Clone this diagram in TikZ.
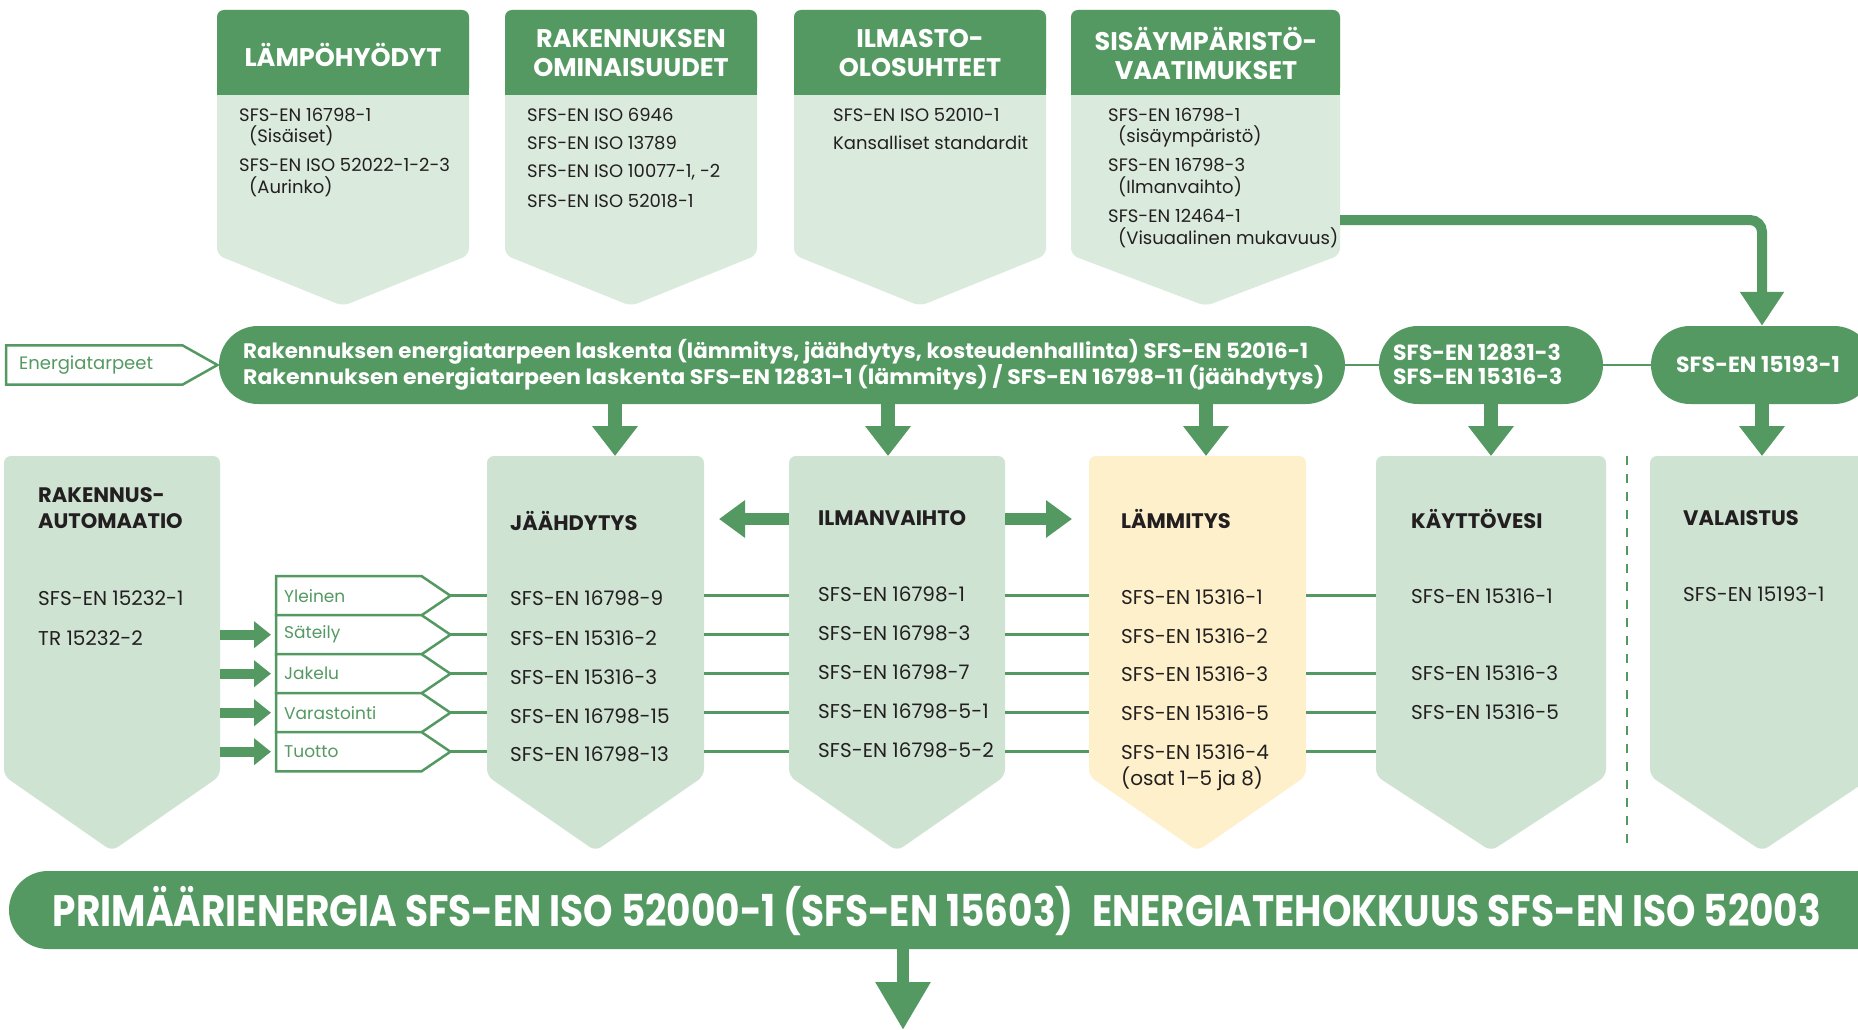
\documentclass[tikz,border=0pt]{standalone}
\usepackage{fontspec}
\usepackage{graphicx}
\setmainfont{Poppins}
\usetikzlibrary{calc,arrows.meta}
\definecolor{dkgreen}{RGB}{84,153,98}
\definecolor{ltgreen}{RGB}{206,227,210}
\definecolor{topgreen}{RGB}{218,234,220}
\definecolor{ltyellow}{RGB}{253,240,202}
\definecolor{ink}{RGB}{35,31,32}
\newcommand\shieldbox[7]{%
  \node[inner sep=0pt,outer sep=0pt,minimum width=#4pt,minimum height=#5pt,anchor=north west] (#1) at (#2,#3) {};
  \fill[#7,rounded corners=7pt] (#1.south west) -- (#1.north west) -- (#1.north east) -- (#1.south east) -- ($(#1.south)+(0,#6)$) -- cycle;}
\newcommand\hdrband[1]{%
  \fill[dkgreen,rounded corners=7pt] (#1.north west |- hb) -- (#1.north west) -- (#1.north east) -- (#1.north east |- hb) -- cycle;
  \fill[dkgreen] ($(#1.north west |- hb)+(0,-10)$) rectangle (#1.north east |- hb);}
\begin{document}
\begin{tikzpicture}[x=1pt,y=-1pt,
  body/.style={anchor=west,inner sep=0pt,text=ink,font=\fontsize{20}{24}\selectfont},
  topt/.style={anchor=west,inner sep=0pt,text=ink,font=\fontsize{18}{22}\selectfont},
  ttl/.style={anchor=west,inner sep=0pt,text=ink,align=left,font=\bfseries\fontsize{21}{26}\selectfont},
  hdr/.style={inner sep=0pt,text=white,align=center,font=\bfseries\fontsize{25.5}{29}\selectfont},
  pillt/.style={anchor=west,inner sep=0pt,text=white,font=\bfseries\fontsize{21}{25}\selectfont},
  labt/.style={anchor=west,inner sep=0pt,text=dkgreen,font=\fontsize{17}{20}\selectfont},
  conn/.style={draw=dkgreen,line width=2.5pt},
  pillbox/.style={fill=dkgreen,rounded corners=39pt,inner sep=0pt,minimum height=78pt},
  fat/.style={draw=dkgreen,line width=14pt,-{Triangle[width=44pt,length=30pt]}},
  sidearr/.style={draw=dkgreen,line width=12pt,-{Triangle[width=36pt,length=26pt]}},
  smallarr/.style={draw=dkgreen,line width=10pt,-{Triangle[width=26pt,length=17pt]}},
  labshape/.style={draw=dkgreen,line width=2.5pt,fill=white}]
\fill[white] (0,0) rectangle (1858,1030);
\useasboundingbox (0,0) rectangle (1858,1030);
\coordinate (hb) at (0,95);
% ---------- top boxes ----------
\shieldbox{hyo}{217}{10}{252}{245}{51}{topgreen}
\shieldbox{omi}{505}{10}{252}{245}{51}{topgreen}
\shieldbox{ilmo}{794}{10}{252}{245}{51}{topgreen}
\shieldbox{sis}{1071}{10}{269}{245}{51}{topgreen}
\hdrband{hyo}\hdrband{omi}\hdrband{ilmo}\hdrband{sis}
\node[hdr] (hyoh) at (343,55) {LÄMPÖHYÖDYT};
\node[hdr] (omih) at (631,53) {RAKENNUKSEN\\OMINAISUUDET};
\node[hdr] (ilmoh) at (920,53) {ILMASTO-\\OLOSUHTEET};
\node[hdr] (sish) at (1206,53) {SISÄYMPÄRISTÖ-\\VAATIMUKSET};
\node[topt] (hyo1) at (239,115) {SFS-EN 16798-1};
\node[topt] (hyo2) at (249,136) {(Sisäiset)};
\node[topt] (hyo3) at (239,165) {SFS-EN ISO 52022-1-2-3};
\node[topt] (hyo4) at (249,187) {(Aurinko)};
\node[topt] (omi1) at (527,115) {SFS-EN ISO 6946};
\node[topt] (omi2) at (527,143) {SFS-EN ISO 13789};
\node[topt] (omi3) at (527,172) {SFS-EN ISO 10077-1, -2};
\node[topt] (omi4) at (527,201) {SFS-EN ISO 52018-1};
\node[topt] (ilmo1) at (833,115) {SFS-EN ISO 52010-1};
\node[topt] (ilmo2) at (833,143) {Kansalliset standardit};
\node[topt] (sis1) at (1108,115) {SFS-EN 16798-1};
\node[topt] (sis2) at (1118,136) {(sisäympäristö)};
\node[topt] (sis3) at (1108,165) {SFS-EN 16798-3};
\node[topt] (sis4) at (1118,187) {(Ilmanvaihto)};
\node[topt] (sis5) at (1108,216) {SFS-EN 12464-1};
\node[topt] (sis6) at (1118,238) {(Visuaalinen mukavuus)};
% ---------- pills ----------
\node[pillbox,minimum width=1126pt] (p1) at (782,365) {};
\node[pillbox,minimum width=224pt] (p2) at (1491,365) {};
\node[pillbox,minimum width=222pt] (p3) at (1762,365) {};
\draw[conn] (p1.east) -- (p2.west);
\draw[conn] (p2.east) -- (p3.west);
\node[pillt] (p1a) at (243,352) {\resizebox{1065pt}{\height}{Rakennuksen energiatarpeen laskenta (lämmitys, jäähdytys, kosteudenhallinta) SFS-EN 52016-1}};
\node[pillt] (p1b) at (243,377) {\resizebox{1081pt}{\height}{Rakennuksen energiatarpeen laskenta SFS-EN 12831-1 (lämmitys) / SFS-EN 16798-11 (jäähdytys)}};
\node[pillt,align=left,font=\bfseries\fontsize{22}{24}\selectfont] (p2t) at (1393,364) {SFS-EN 12831-3\\SFS-EN 15316-3};
\node[pillt,anchor=center,font=\bfseries\fontsize{22}{24}\selectfont] (p3t) at (1758,364) {SFS-EN 15193-1};
% Energiatarpeet
\node[inner sep=0pt,minimum width=211pt,minimum height=39pt,anchor=west] (en) at (6,365) {};
\draw[labshape] (en.north west) -- ($(en.north east)+(-35,0)$) -- (en.east) -- ($(en.south east)+(-35,0)$) -- (en.south west) -- cycle;
\node[labt,font=\fontsize{18}{20}\selectfont] (ent) at (19,365) {Energiatarpeet};
% sisäympäristö arrow
\coordinate (sy) at (0,220);
\draw[draw=dkgreen,line width=10pt,rounded corners=12pt,-{Triangle[width=42pt,length=34pt]}] (sis.east |- sy) -| (p3.north);
% ---------- lower boxes ----------
\shieldbox{rak}{4}{456}{216}{320}{75}{ltgreen}
\shieldbox{jaa}{487}{456}{217}{320}{75}{ltgreen}
\shieldbox{ilm}{789}{456}{216}{320}{75}{ltgreen}
\shieldbox{lamm}{1089}{456}{217}{320}{75}{ltyellow}
\shieldbox{kay}{1376}{456}{230}{320}{75}{ltgreen}
\shieldbox{val}{1650}{456}{224}{320}{75}{ltgreen}
\coordinate (d1) at (1627,456);
\coordinate (d2) at (1627,851);
\draw[dkgreen,line width=1.5pt,dash pattern=on 9pt off 9pt] (d1) -- (d2);
% down arrows
\coordinate (a1) at (615,0);
\coordinate (a2) at (888,0);
\coordinate (a3) at (1206,0);
\draw[fat] (p1.south -| a1) -- (jaa.north -| a1);
\draw[fat] (p1.south -| a2) -- (ilm.north -| a2);
\draw[fat] (p1.south -| a3) -- (lamm.north -| a3);
\draw[fat] (p2.south) -- (kay.north -| p2.south);
\draw[fat] (p3.south) -- (val.north -| p3.south);
% titles
\node[ttl] (rakt) at (38,508) {RAKENNUS-\\AUTOMAATIO};
\node[ttl] (jaat) at (510,521) {JÄÄHDYTYS};
\node[ttl] (ilmt) at (818,518) {ILMANVAIHTO};
\node[ttl] (lammt) at (1121,519) {LÄMMITYS};
\node[ttl] (kayt) at (1411,519) {KÄYTTÖVESI};
\node[ttl] (valt) at (1683,518) {VALAISTUS};
% side arrows from ilmanvaihto
\coordinate (sa) at (0,519);
\draw[sidearr,shorten >=15pt] (ilm.west |- sa) -- (jaa.east |- sa);
\draw[sidearr,shorten >=17pt] (ilm.east |- sa) -- (lamm.west |- sa);
% labels
\foreach \tx [count=\k from 0] in {Yleinen,Säteily,Jakelu,Varastointi,Tuotto}{
  \pgfmathsetmacro\yt{576+39*\k}
  \node[inner sep=0pt,minimum width=174pt,minimum height=39pt,anchor=north west] (lab\k) at (276,\yt) {};
  \draw[labshape] (lab\k.north west) -- ($(lab\k.north east)+(-29,0)$) -- (lab\k.east) -- ($(lab\k.south east)+(-29,0)$) -- (lab\k.south west) -- cycle;
  \node[labt] (labt\k) at ($(lab\k.west)+(8,0)$) {\tx};
  \draw[conn] (lab\k.east) -- (jaa.west |- lab\k.east);
  \draw[conn] (jaa.east |- lab\k.east) -- (ilm.west |- lab\k.east);
  \draw[conn] (ilm.east |- lab\k.east) -- (lamm.west |- lab\k.east);
}
\foreach \k in {0,2,3,4}{\draw[conn] (lamm.east |- lab\k.east) -- (kay.west |- lab\k.east);}
\foreach \k in {1,2,3,4}{\draw[smallarr,shorten >=5pt] (rak.east |- lab\k.west) -- (lab\k.west);}
% entries
\node[body] (rak1) at (38,598) {SFS-EN 15232-1};
\node[body] (rak2) at (38,638) {TR 15232-2};
\foreach \y/\tx [count=\i] in {598/SFS-EN 16798-9,638/SFS-EN 15316-2,677/SFS-EN 15316-3,716/SFS-EN 16798-15,754/SFS-EN 16798-13}
  \node[body] (jaa\i) at (510,\y) {\tx};
\foreach \y/\tx [count=\i] in {594/SFS-EN 16798-1,633/SFS-EN 16798-3,672/SFS-EN 16798-7,711/SFS-EN 16798-5-1,750/SFS-EN 16798-5-2}
  \node[body] (ilm\i) at (818,\y) {\tx};
\foreach \y/\tx [count=\i] in {597/SFS-EN 15316-1,636/SFS-EN 15316-2,674/SFS-EN 15316-3,713/SFS-EN 15316-5,752/SFS-EN 15316-4,779/(osat 1–5 ja 8)}
  \node[body] (lamm\i) at (1121,\y) {\tx};
\foreach \y/\tx [count=\i] in {596/SFS-EN 15316-1,673/SFS-EN 15316-3,712/SFS-EN 15316-5}
  \node[body] (kay\i) at (1411,\y) {\tx};
\node[body] (val1) at (1683,594) {SFS-EN 15193-1};
% bottom
\node[pillbox,minimum width=1891pt] (bot) at (954.5,910) {};
\node[inner sep=0pt,text=white,font=\bfseries\fontsize{44}{50}\selectfont] (bott) at (937,911) {\resizebox{1768pt}{\height}{PRIMÄÄRIENERGIA SFS-EN ISO 52000-1 (SFS-EN 15603)\hspace{0.5em}ENERGIATEHOKKUUS SFS-EN ISO 52003}};
\coordinate (bend) at (903,1030);
\draw[draw=dkgreen,line width=12pt,-{Triangle[width=52pt,length=48pt]}] (bot.south -| bend) -- (bend);
\end{tikzpicture}
\end{document}
